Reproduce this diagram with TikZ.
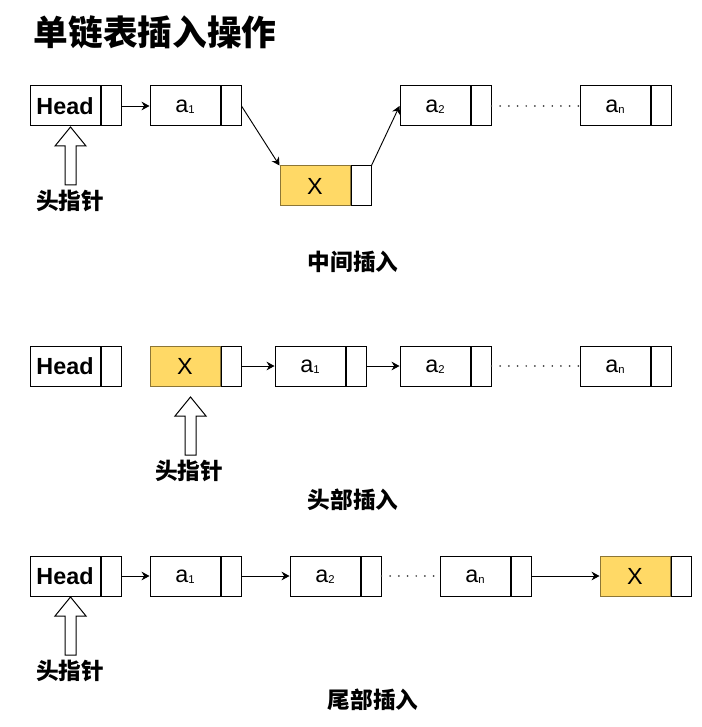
\documentclass[tikz,border=0pt]{standalone}
\usepackage{fontspec}
\setmainfont{Liberation Sans}
\newfontfamily\cjk{Noto Sans CJK SC}
\usetikzlibrary{arrows.meta}
\definecolor{xfill}{HTML}{FFD966}
\definecolor{xdraw}{HTML}{8C7636}
\newcommand\sbs[1]{\smash{{\fontsize{8.5}{8.5}\selectfont\raisebox{-0.8pt}{#1}}}}
\newcommand\harrow[2]{%
  \draw[line width=0.75pt] (#1,#2) -- (#1+15.5,#2+19) -- (#1+5.5,#2+19) -- (#1+5.5,#2+58)
    -- (#1-5.5,#2+58) -- (#1-5.5,#2+19) -- (#1-15.5,#2+19) -- cycle;}
\tikzset{
  cell/.style={draw=black, line width=0.75pt, minimum height=30pt, inner sep=0pt,
    font=\fontsize{17.5}{20}\selectfont},
  datab/.style={cell, minimum width=52.5pt},
  ptrb/.style={cell, minimum width=15pt, anchor=west},
  xbox/.style={datab, fill=xfill, draw=xdraw},
  link/.style={line width=0.7pt, -{Stealth[length=6pt,width=6.5pt,inset=2pt]}},
  dotline/.style={line width=1.4pt, line cap=round, dash pattern=on 0.01pt off 6.5pt, draw=black!75},
  cjklab/.style={font=\cjk\bfseries\fontsize{17}{20}\selectfont, inner sep=0pt},
  titlelab/.style={font=\cjk\bfseries\fontsize{26}{30}\selectfont, inner sep=0pt}
}
\begin{document}
\begin{tikzpicture}[x=0.75pt,y=-0.75pt]
\useasboundingbox (0,0) rectangle (701,727);
\node[titlelab] (title) at (155,32) {单链表插入操作};

% ---------- row 1: middle insertion
\node[datab] (h1) at (65,106) {\bfseries Head};
\node[ptrb] (h1p) at (h1.east) {};
\node[datab] (a11) at (185,106) {a\sbs{1}};
\node[ptrb] (a11p) at (a11.east) {};
\node[xbox] (x1) at (315,186) {X};
\node[ptrb] (x1p) at (x1.east) {};
\node[datab] (a21) at (435,106) {a\sbs{2}};
\node[ptrb] (a21p) at (a21.east) {};
\node[datab] (an1) at (615,106) {a\sbs{n}};
\node[ptrb] (an1p) at (an1.east) {};
\draw[link] (h1p.east) -- (a11.west);
\draw[link] (a11p.east) -- (x1.north west);
\draw[link] (x1p.north east) -- (a21.west);
\draw[dotline] (a21p.east) -- (an1.west);
\harrow{70.5}{127}
\node[cjklab] (lab1) at (70,201) {头指针};
\node[cjklab] (sec1) at (353,262) {中间插入};

% ---------- row 2: head insertion
\node[datab] (h2) at (65,366) {\bfseries Head};
\node[ptrb] (h2p) at (h2.east) {};
\node[xbox] (x2) at (185,366) {X};
\node[ptrb] (x2p) at (x2.east) {};
\node[datab] (a12) at (310,366) {a\sbs{1}};
\node[ptrb] (a12p) at (a12.east) {};
\node[datab] (a22) at (435,366) {a\sbs{2}};
\node[ptrb] (a22p) at (a22.east) {};
\node[datab] (an2) at (615,366) {a\sbs{n}};
\node[ptrb] (an2p) at (an2.east) {};
\draw[link] (x2p.east) -- (a12.west);
\draw[link] (a12p.east) -- (a22.west);
\draw[dotline] (a22p.east) -- (an2.west);
\harrow{190.5}{397}
\node[cjklab] (lab2) at (189,471) {头指针};
\node[cjklab] (sec2) at (353,500) {头部插入};

% ---------- row 3: tail insertion
\node[datab] (h3) at (65,576) {\bfseries Head};
\node[ptrb] (h3p) at (h3.east) {};
\node[datab] (a13) at (185,576) {a\sbs{1}};
\node[ptrb] (a13p) at (a13.east) {};
\node[datab] (a23) at (325,576) {a\sbs{2}};
\node[ptrb] (a23p) at (a23.east) {};
\node[datab] (an3) at (475,576) {a\sbs{n}};
\node[ptrb] (an3p) at (an3.east) {};
\node[xbox] (x3) at (635,576) {X};
\node[ptrb] (x3p) at (x3.east) {};
\draw[link] (h3p.east) -- (a13.west);
\draw[link] (a13p.east) -- (a23.west);
\draw[dotline] (a23p.east) -- (an3.west);
\draw[link] (an3p.east) -- (x3.west);
\harrow{70.5}{597}
\node[cjklab] (lab3) at (70,671) {头指针};
\node[cjklab] (sec3) at (373,700) {尾部插入};
\end{tikzpicture}
\end{document}
